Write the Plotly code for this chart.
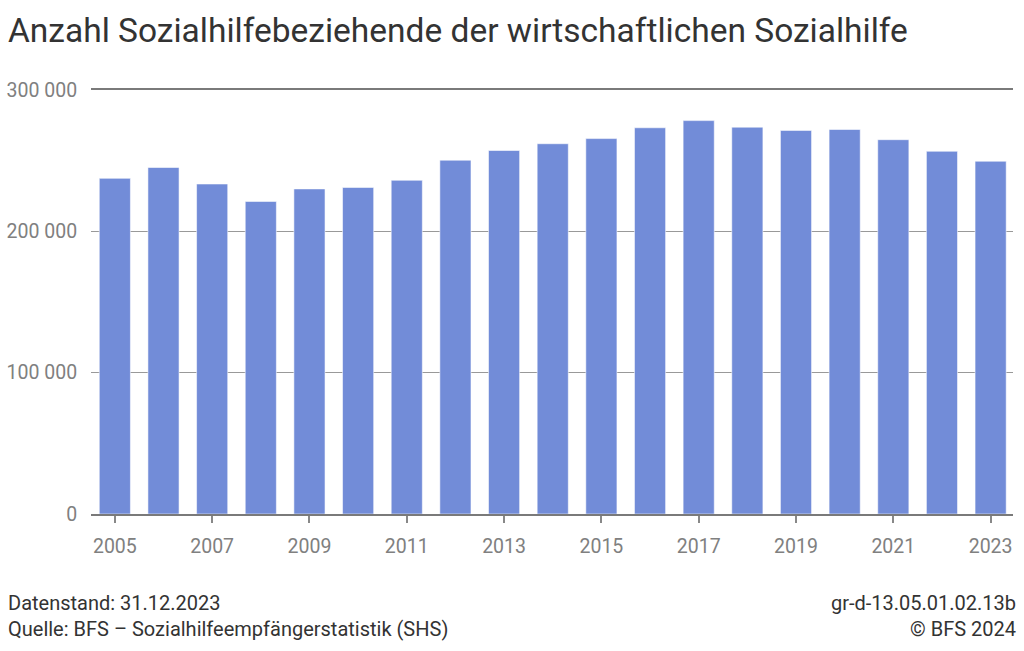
import plotly.graph_objects as go

years = [str(y) for y in range(2005, 2024)]
values = [237495, 245156, 233484, 221150, 230019, 231046, 236133, 250333, 257192,
          261983, 265626, 273273, 278345, 273700, 271400, 272053, 264839, 256645, 249600]
tick_years = [str(y) for y in range(2005, 2024, 2)]
y_ticks = [0, 100000, 200000, 300000]
y_tick_labels = ["0", "100 000", "200 000", "300 000"]

title = "Anzahl Sozialhilfebeziehende der wirtschaftlichen Sozialhilfe"
foot_left = "Datenstand: 31.12.2023<br>Quelle: BFS – Sozialhilfeempfängerstatistik (SHS)"
foot_right = "gr-d-13.05.01.02.13b<br>© BFS 2024"

FONT = "Roboto"

fig = go.Figure(go.Bar(
    x=years, y=values,
    marker=dict(color="#728cd8", line=dict(color="rgba(255,255,255,0.55)", width=1)),
    hoverinfo="x+y",
))

fig.update_layout(
    width=1024, height=651,
    margin=dict(l=91, r=11, t=90, b=137, autoexpand=False),
    paper_bgcolor="white", plot_bgcolor="white",
    bargap=0.36,
    showlegend=False,
    font=dict(family=FONT, color="#333333"),
    title=dict(text=title, x=8 / 1024, xref="container", xanchor="left",
               y=0.953, yanchor="middle",
               font=dict(family=FONT, size=33.5, color="#333333"), pad=dict(l=0)),
)

fig.update_xaxes(
    type="category", automargin=False,
    tickvals=tick_years, ticktext=tick_years,
    ticks="outside", ticklen=7, tickwidth=1.5, tickcolor="#888888",
    ticklabelstandoff=7,
    tickfont=dict(family=FONT, size=19.5, color="#808080"),
    showline=True, linecolor="#7a7a7a", linewidth=1.5, mirror=True,
    showgrid=False, range=[-0.49, 18.46],
)
fig.update_yaxes(
    range=[0, 300000], automargin=False,
    tickvals=y_ticks, ticktext=y_tick_labels,
    ticks="outside", ticklen=9, tickcolor="rgba(0,0,0,0)",
    tickfont=dict(family=FONT, size=19.5, color="#808080"),
    showgrid=True, gridcolor="#999999", gridwidth=1.3,
    zeroline=False, showline=False,
)

fig.add_annotation(text=foot_left, xref="paper", yref="paper", x=-85/922, y=-0.178,
                   xanchor="left", yanchor="top", align="left", showarrow=False,
                   font=dict(family=FONT, size=20, color="#333333"))
fig.add_annotation(text=foot_right, xref="paper", yref="paper", x=1.005, y=-0.178,
                   xanchor="right", yanchor="top", align="right", showarrow=False,
                   font=dict(family=FONT, size=20, color="#333333"))

fig.write_html("out.html", config={"displayModeBar": False},
               post_script="document.body.style.margin='0';")
